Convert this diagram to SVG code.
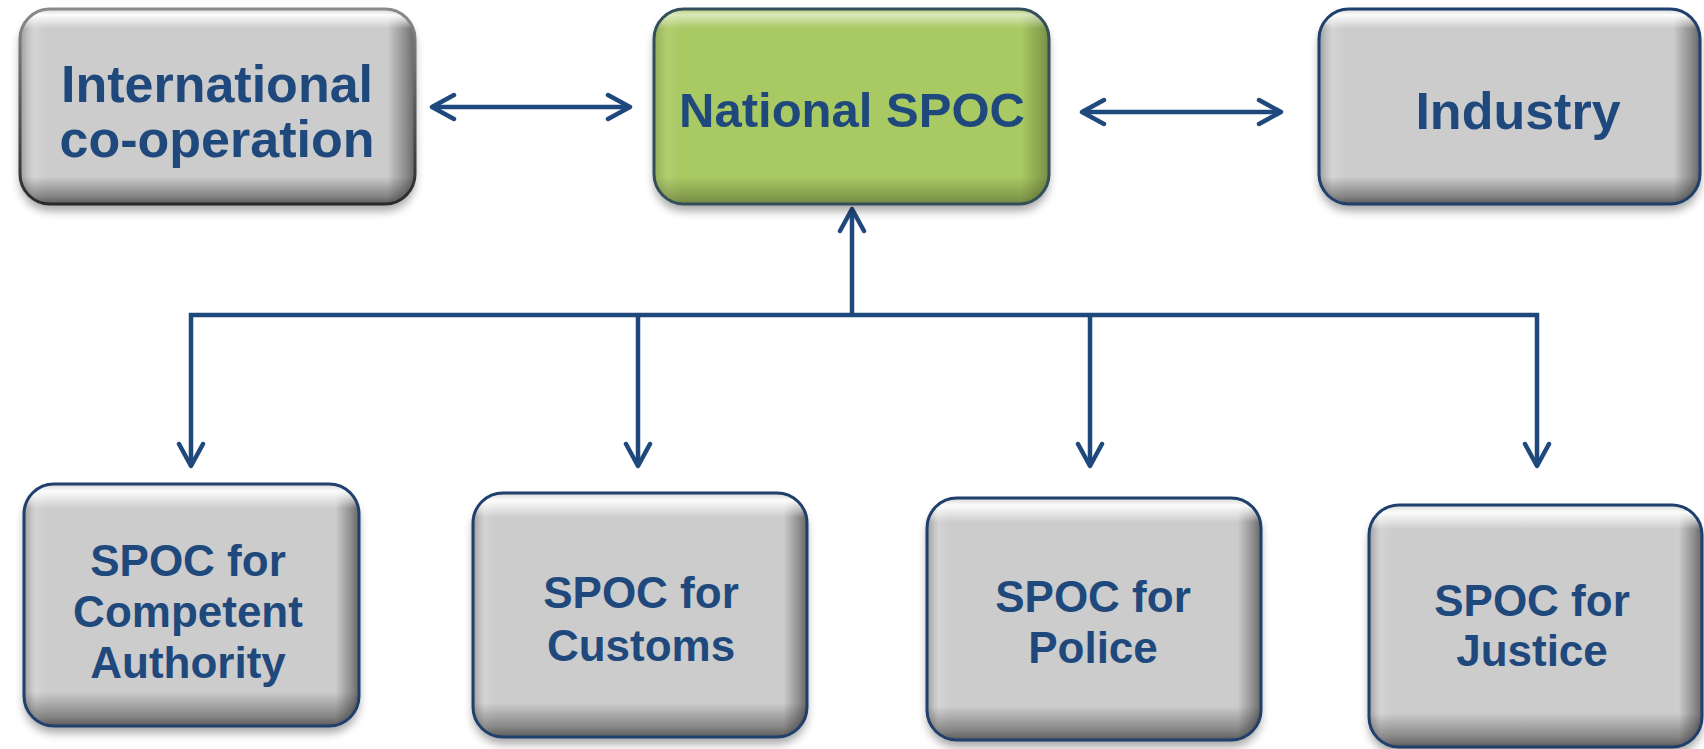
<svg xmlns="http://www.w3.org/2000/svg" width="1704" height="749" viewBox="0 0 1704 749">
<defs>
  <filter id="shadow" x="-10%" y="-10%" width="120%" height="130%">
    <feGaussianBlur in="SourceAlpha" stdDeviation="5"/>
    <feOffset dx="0" dy="7" result="b"/>
    <feComponentTransfer><feFuncA type="linear" slope="0.35"/></feComponentTransfer>
    <feMerge><feMergeNode/><feMergeNode in="SourceGraphic"/></feMerge>
  </filter>
  <linearGradient id="bevelV" x1="0" y1="0" x2="0" y2="1">
    <stop offset="0" stop-color="#ffffff" stop-opacity="0.2"/>
    <stop offset="0.03" stop-color="#ffffff" stop-opacity="0.95"/>
    <stop offset="0.1" stop-color="#ffffff" stop-opacity="0"/>
    <stop offset="0.86" stop-color="#000000" stop-opacity="0"/>
    <stop offset="0.96" stop-color="#000000" stop-opacity="0.35"/>
    <stop offset="1" stop-color="#000000" stop-opacity="0.55"/>
  </linearGradient>
  <linearGradient id="bevelH" x1="0" y1="0" x2="1" y2="0">
    <stop offset="0" stop-color="#000000" stop-opacity="0.25"/>
    <stop offset="0.035" stop-color="#ffffff" stop-opacity="0.15"/>
    <stop offset="0.07" stop-color="#ffffff" stop-opacity="0"/>
    <stop offset="0.93" stop-color="#000000" stop-opacity="0"/>
    <stop offset="0.975" stop-color="#000000" stop-opacity="0.3"/>
    <stop offset="1" stop-color="#000000" stop-opacity="0.5"/>
  </linearGradient>
  <linearGradient id="strokeGray" x1="0" y1="0" x2="0" y2="1">
    <stop offset="0" stop-color="#8a8a8a"/>
    <stop offset="1" stop-color="#2a2a2a"/>
  </linearGradient>
  <marker id="arr" viewBox="0 0 30 30" refX="27" refY="15" markerWidth="30" markerHeight="30" markerUnits="userSpaceOnUse" orient="auto-start-reverse">
    <path d="M5,3 L27,15 L5,27" fill="none" stroke="#1F497D" stroke-width="4.5" stroke-linecap="round" stroke-linejoin="round"/>
  </marker>
  <style>
    .gray { fill: #cccccc; }
    .green { fill: #a9c962; }
    .navy { stroke: #1f3f6d; stroke-width: 3; }
    .gstroke { stroke: url(#strokeGray); stroke-width: 3; }
    .nstroke { stroke: #334f5c; stroke-width: 3; }
    .ov { stroke: none; }
    .lbl { font-family: "Liberation Sans", Arial, sans-serif; font-weight: bold; fill: #1f497d; text-anchor: middle; }
    .big { font-size: 52px; }
    .mid { font-size: 49px; }
    .small { font-size: 44px; }
    .con { fill: none; stroke: #1f497d; stroke-width: 4.5; }
  </style>
</defs>
<rect width="1704" height="749" fill="#ffffff"/>

<g id="connectors">
  <line class="con" x1="432" y1="107" x2="630" y2="107" marker-start="url(#arr)" marker-end="url(#arr)"/>
  <line class="con" x1="1082" y1="112" x2="1281" y2="112" marker-start="url(#arr)" marker-end="url(#arr)"/>
  <line class="con" x1="852" y1="317" x2="852" y2="209" marker-end="url(#arr)"/>
  <polyline class="con" points="191,466 191,315 1537,315 1537,466" marker-start="url(#arr)" marker-end="url(#arr)"/>
  <line class="con" x1="638" y1="315" x2="638" y2="466" marker-end="url(#arr)"/>
  <line class="con" x1="1090" y1="315" x2="1090" y2="466" marker-end="url(#arr)"/>
</g>

<g id="international">
  <g filter="url(#shadow)">
    <rect class="gray" x="20" y="9" width="395" height="195" rx="30"/>
  </g>
  <rect class="ov" x="20" y="9" width="395" height="195" rx="30" fill="url(#bevelH)"/>
  <rect class="ov" x="20" y="9" width="395" height="195" rx="30" fill="url(#bevelV)"/>
  <rect x="20" y="9" width="395" height="195" rx="30" fill="none" class="gstroke"/>
  <text class="lbl big" x="217" y="102">International</text>
  <text class="lbl big" x="217" y="157">co-operation</text>
</g>

<g id="national">
  <g filter="url(#shadow)">
    <rect class="green" x="654" y="9" width="395" height="195" rx="30"/>
  </g>
  <rect class="ov" x="654" y="9" width="395" height="195" rx="30" fill="url(#bevelH)" opacity="0.6"/>
  <rect class="ov" x="654" y="9" width="395" height="195" rx="30" fill="url(#bevelV)" opacity="0.6"/>
  <rect x="654" y="9" width="395" height="195" rx="30" fill="none" class="nstroke"/>
  <text class="lbl mid" x="852" y="127">National SPOC</text>
</g>

<g id="industry">
  <g filter="url(#shadow)">
    <rect class="gray" x="1319" y="9" width="381" height="195" rx="30"/>
  </g>
  <rect class="ov" x="1319" y="9" width="381" height="195" rx="30" fill="url(#bevelH)"/>
  <rect class="ov" x="1319" y="9" width="381" height="195" rx="30" fill="url(#bevelV)"/>
  <rect x="1319" y="9" width="381" height="195" rx="30" fill="none" class="navy"/>
  <text class="lbl big" x="1518" y="129">Industry</text>
</g>

<g id="spoc-competent">
  <g filter="url(#shadow)">
    <rect class="gray" x="24" y="484" width="335" height="242" rx="30"/>
  </g>
  <rect class="ov" x="24" y="484" width="335" height="242" rx="30" fill="url(#bevelH)"/>
  <rect class="ov" x="24" y="484" width="335" height="242" rx="30" fill="url(#bevelV)"/>
  <rect x="24" y="484" width="335" height="242" rx="30" fill="none" class="navy"/>
  <text class="lbl small" x="188" y="576">SPOC for</text>
  <text class="lbl small" x="188" y="627">Competent</text>
  <text class="lbl small" x="188" y="678">Authority</text>
</g>

<g id="spoc-customs">
  <g filter="url(#shadow)">
    <rect class="gray" x="473" y="493" width="334" height="244" rx="30"/>
  </g>
  <rect class="ov" x="473" y="493" width="334" height="244" rx="30" fill="url(#bevelH)"/>
  <rect class="ov" x="473" y="493" width="334" height="244" rx="30" fill="url(#bevelV)"/>
  <rect x="473" y="493" width="334" height="244" rx="30" fill="none" class="navy"/>
  <text class="lbl small" x="641" y="608">SPOC for</text>
  <text class="lbl small" x="641" y="661">Customs</text>
</g>

<g id="spoc-police">
  <g filter="url(#shadow)">
    <rect class="gray" x="927" y="498" width="334" height="242" rx="30"/>
  </g>
  <rect class="ov" x="927" y="498" width="334" height="242" rx="30" fill="url(#bevelH)"/>
  <rect class="ov" x="927" y="498" width="334" height="242" rx="30" fill="url(#bevelV)"/>
  <rect x="927" y="498" width="334" height="242" rx="30" fill="none" class="navy"/>
  <text class="lbl small" x="1093" y="612">SPOC for</text>
  <text class="lbl small" x="1093" y="663">Police</text>
</g>

<g id="spoc-justice">
  <g filter="url(#shadow)">
    <rect class="gray" x="1369" y="505" width="333" height="242" rx="30"/>
  </g>
  <rect class="ov" x="1369" y="505" width="333" height="242" rx="30" fill="url(#bevelH)"/>
  <rect class="ov" x="1369" y="505" width="333" height="242" rx="30" fill="url(#bevelV)"/>
  <rect x="1369" y="505" width="333" height="242" rx="30" fill="none" class="navy"/>
  <text class="lbl small" x="1532" y="616">SPOC for</text>
  <text class="lbl small" x="1532" y="666">Justice</text>
</g>
</svg>
